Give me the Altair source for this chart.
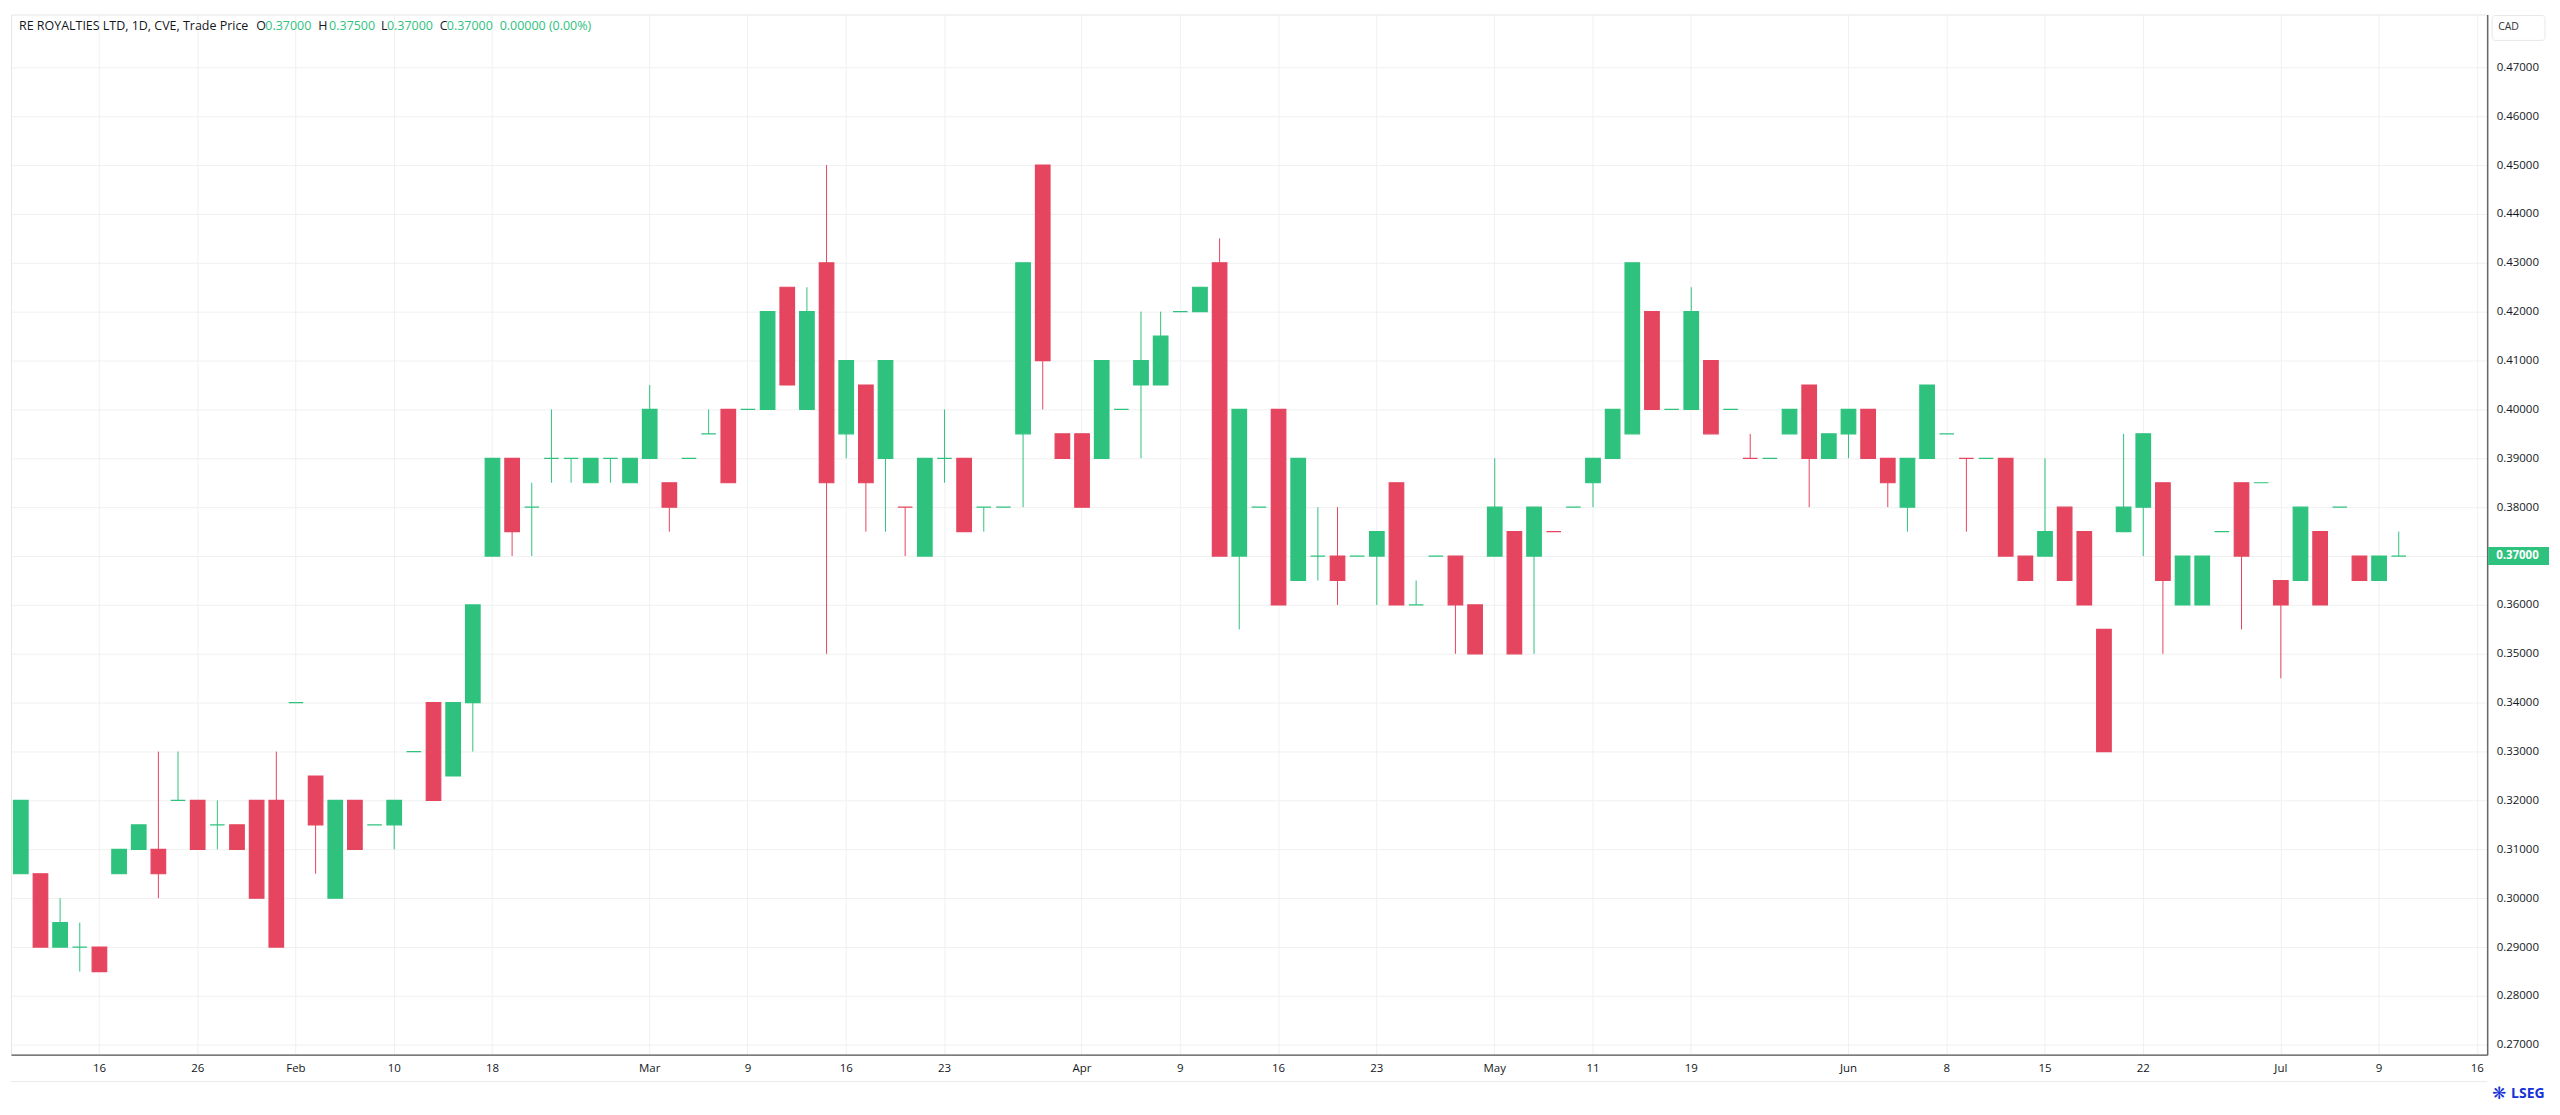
import altair as alt
import pandas as pd

# ---------------- data ----------------
OPEN = [0.305, 0.305, 0.29, 0.29, 0.29, 0.305, 0.31, 0.31, 0.32, 0.32,
        0.315, 0.315, 0.32, 0.32, 0.34, 0.325, 0.30, 0.32, 0.315, 0.315,
        0.33, 0.34, 0.325, 0.34, 0.37, 0.39, 0.38, 0.39, 0.39, 0.385,
        0.39, 0.385, 0.39, 0.385, 0.39, 0.395, 0.40, 0.40, 0.40, 0.425,
        0.40, 0.43, 0.395, 0.405, 0.39, 0.38, 0.37, 0.39, 0.39, 0.38,
        0.38, 0.395, 0.45, 0.395, 0.395, 0.39, 0.40, 0.405, 0.405, 0.42,
        0.42, 0.43, 0.37, 0.38, 0.40, 0.365, 0.37, 0.37, 0.37, 0.37,
        0.385, 0.36, 0.37, 0.37, 0.36, 0.37, 0.375, 0.37, 0.375, 0.38,
        0.385, 0.39, 0.395, 0.42, 0.40, 0.40, 0.41, 0.40, 0.39, 0.39,
        0.395, 0.405, 0.39, 0.395, 0.40, 0.39, 0.38, 0.39, 0.395, 0.39,
        0.39, 0.39, 0.37, 0.37, 0.38, 0.375, 0.355, 0.375, 0.38, 0.385,
        0.36, 0.36, 0.375, 0.385, 0.385, 0.365, 0.365, 0.375, 0.38, 0.37,
        0.365, 0.37]
HIGH = [0.32, 0.305, 0.30, 0.295, 0.29, 0.31, 0.315, 0.33, 0.33, 0.32,
        0.32, 0.315, 0.32, 0.33, 0.34, 0.325, 0.32, 0.32, 0.315, 0.32,
        0.33, 0.34, 0.34, 0.36, 0.39, 0.39, 0.385, 0.40, 0.39, 0.39,
        0.39, 0.39, 0.405, 0.385, 0.39, 0.40, 0.40, 0.40, 0.42, 0.425,
        0.425, 0.45, 0.41, 0.405, 0.41, 0.38, 0.39, 0.40, 0.39, 0.38,
        0.38, 0.43, 0.45, 0.395, 0.395, 0.41, 0.40, 0.42, 0.42, 0.42,
        0.425, 0.435, 0.40, 0.38, 0.40, 0.39, 0.38, 0.38, 0.37, 0.375,
        0.385, 0.365, 0.37, 0.37, 0.36, 0.39, 0.375, 0.38, 0.375, 0.38,
        0.39, 0.40, 0.43, 0.42, 0.40, 0.425, 0.41, 0.40, 0.395, 0.39,
        0.40, 0.405, 0.395, 0.40, 0.40, 0.39, 0.39, 0.405, 0.395, 0.39,
        0.39, 0.39, 0.37, 0.39, 0.38, 0.375, 0.355, 0.395, 0.395, 0.385,
        0.37, 0.37, 0.375, 0.385, 0.385, 0.365, 0.38, 0.375, 0.38, 0.37,
        0.37, 0.375]
LOW = [0.305, 0.29, 0.29, 0.285, 0.285, 0.305, 0.31, 0.30, 0.32, 0.31,
       0.31, 0.31, 0.30, 0.29, 0.34, 0.305, 0.30, 0.31, 0.315, 0.31,
       0.33, 0.32, 0.325, 0.33, 0.37, 0.37, 0.37, 0.385, 0.385, 0.385,
       0.385, 0.385, 0.39, 0.375, 0.39, 0.395, 0.385, 0.40, 0.40, 0.405,
       0.40, 0.35, 0.39, 0.375, 0.375, 0.37, 0.37, 0.385, 0.375, 0.375,
       0.38, 0.38, 0.40, 0.39, 0.38, 0.39, 0.40, 0.39, 0.405, 0.42,
       0.42, 0.37, 0.355, 0.38, 0.36, 0.365, 0.365, 0.36, 0.37, 0.36,
       0.36, 0.36, 0.37, 0.35, 0.35, 0.37, 0.35, 0.35, 0.375, 0.38,
       0.38, 0.39, 0.395, 0.40, 0.40, 0.40, 0.395, 0.40, 0.39, 0.39,
       0.395, 0.38, 0.39, 0.39, 0.39, 0.38, 0.375, 0.39, 0.395, 0.375,
       0.39, 0.37, 0.365, 0.37, 0.365, 0.36, 0.33, 0.375, 0.37, 0.35,
       0.36, 0.36, 0.375, 0.355, 0.385, 0.345, 0.365, 0.36, 0.38, 0.365,
       0.365, 0.37]
CLOSE = [0.32, 0.29, 0.295, 0.29, 0.285, 0.31, 0.315, 0.305, 0.32, 0.31,
         0.315, 0.31, 0.30, 0.29, 0.34, 0.315, 0.32, 0.31, 0.315, 0.32,
         0.33, 0.32, 0.34, 0.36, 0.39, 0.375, 0.38, 0.39, 0.39, 0.39,
         0.39, 0.39, 0.40, 0.38, 0.39, 0.395, 0.385, 0.40, 0.42, 0.405,
         0.42, 0.385, 0.41, 0.385, 0.41, 0.38, 0.39, 0.39, 0.375, 0.38,
         0.38, 0.43, 0.41, 0.39, 0.38, 0.41, 0.40, 0.41, 0.415, 0.42,
         0.425, 0.37, 0.40, 0.38, 0.36, 0.39, 0.37, 0.365, 0.37, 0.375,
         0.36, 0.36, 0.37, 0.36, 0.35, 0.38, 0.35, 0.38, 0.375, 0.38,
         0.39, 0.40, 0.43, 0.40, 0.40, 0.42, 0.395, 0.40, 0.39, 0.39,
         0.40, 0.39, 0.395, 0.40, 0.39, 0.385, 0.39, 0.405, 0.395, 0.39,
         0.39, 0.37, 0.365, 0.375, 0.365, 0.36, 0.33, 0.38, 0.395, 0.365,
         0.37, 0.37, 0.375, 0.37, 0.385, 0.36, 0.38, 0.36, 0.38, 0.365,
         0.37, 0.37]

# calendar: TSX-V trading days, market holidays and days without trades
HOLIDAYS = ["2026-02-16", "2026-04-03", "2026-05-18", "2026-07-01"]
NO_TRADE_DAYS = ["2026-01-19", "2026-02-09", "2026-05-04", "2026-05-25"]
DOJI_DOWN = ["2026-03-19", "2026-05-07", "2026-05-22", "2026-06-09"]

TICK_DATES = ["2026-01-16", "2026-01-26", "2026-02-02", "2026-02-10", "2026-02-18",
              "2026-03-02", "2026-03-09", "2026-03-16", "2026-03-23", "2026-04-01",
              "2026-04-09", "2026-04-16", "2026-04-23", "2026-05-01", "2026-05-11",
              "2026-05-19", "2026-06-01", "2026-06-08", "2026-06-15", "2026-06-22",
              "2026-07-02", "2026-07-09", "2026-07-16"]
TICK_LABELS = ["16", "26", "Feb", "10", "18", "Mar", "9", "16", "23", "Apr", "9", "16",
               "23", "May", "11", "19", "Jun", "8", "15", "22", "Jul", "9", "16"]
PRICE_TICKS = [round(0.27 + 0.01 * i, 2) for i in range(21)]
LAST_PRICE = 0.37

# ---------------- build table ----------------
days = pd.bdate_range("2026-01-12", "2026-07-16", freq="C",
                      holidays=HOLIDAYS + NO_TRADE_DAYS)
DATES = [d.strftime("%Y-%m-%d") for d in days]
n = len(OPEN)
df = pd.DataFrame({"date": DATES[:n], "open": OPEN, "high": HIGH,
                   "low": LOW, "close": CLOSE})


def direction(row):
    if row["close"] > row["open"]:
        return "up"
    if row["close"] < row["open"]:
        return "down"
    return "down" if row["date"] in DOJI_DOWN else "up"


df["dir"] = df.apply(direction, axis=1)

GREEN = "#2EC27E"
RED = "#E5455F"
TXT = "#131722"
W, H = 2483, 1043
YMIN, YMAX = 0.268, 0.4808

label_expr = "".join(f"datum.value === '{d}' ? '{l}' : "
                     for d, l in zip(TICK_DATES, TICK_LABELS)) + "''"

xscale = alt.Scale(domain=DATES, paddingInner=0.26, paddingOuter=0.13)
yscale = alt.Scale(domain=[YMIN, YMAX], nice=False, zero=False)
cscale = alt.Scale(domain=["up", "down"], range=[GREEN, RED])

xaxis = alt.Axis(values=TICK_DATES, labelExpr=label_expr, labelAngle=0, tickSize=0,
                 labelPadding=8, labelFontSize=11.5, labelFont="Open Sans",
                 labelColor=TXT, domainColor="#555555", domainWidth=1.5,
                 grid=True, gridColor="#f0f0f0", gridWidth=1, title=None,
                 bandPosition=0.5)
yaxis = alt.Axis(orient="right", values=PRICE_TICKS, format=".5f", tickSize=0,
                 labelPadding=9, labelFontSize=11.5, labelFont="Open Sans",
                 labelColor=TXT, domainColor="#666666", domainWidth=1.5,
                 grid=True, gridColor="#f0f0f0", gridWidth=1, title=None)

base = alt.Chart(df)

wicks = base.mark_rule(strokeWidth=1).encode(
    x=alt.X("date:O", scale=xscale, axis=xaxis, bandPosition=0.5),
    y=alt.Y("low:Q", scale=yscale, axis=yaxis),
    y2="high:Q",
    color=alt.Color("dir:N", scale=cscale, legend=None),
)

bodies = base.mark_bar(strokeWidth=1.2).encode(
    x=alt.X("date:O", scale=xscale),
    y=alt.Y("open:Q", scale=yscale),
    y2="close:Q",
    color=alt.Color("dir:N", scale=cscale, legend=None),
    stroke=alt.Stroke("dir:N", scale=cscale, legend=None),
)

# header legend line
header_parts = [
    ("RE ROYALTIES LTD, 1D, CVE, Trade Price", 8, TXT),
    ("O", 246, TXT), ("0.37000", 255, GREEN),
    ("H", 308, TXT), ("0.37500", 319, GREEN),
    ("L", 371, TXT), ("0.37000", 377, GREEN),
    ("C", 430, TXT), ("0.37000", 437, GREEN),
    ("0.00000 (0.00%)", 490, GREEN),
]
header_layers = []
for txt, px, col in header_parts:
    header_layers.append(
        alt.Chart(pd.DataFrame({"t": [txt]})).mark_text(
            align="left", baseline="middle", fontSize=12.5, font="Open Sans",
            color=col
        ).encode(x=alt.value(px), y=alt.value(12), text="t:N")
    )

# last price tag on price scale
tag_df = pd.DataFrame({"p": [LAST_PRICE], "lo": [LAST_PRICE - 0.00184],
                       "hi": [LAST_PRICE + 0.00184], "t": ["0.37000"]})
tag_box = alt.Chart(tag_df).mark_rect(color=GREEN, clip=False).encode(
    x=alt.value(W + 1), x2=alt.value(W + 62),
    y=alt.Y("lo:Q", scale=yscale), y2="hi:Q",
)
tag_txt = alt.Chart(tag_df).mark_text(
    align="left", baseline="middle", fontSize=11.5, font="Open Sans",
    color="white", fontWeight="bold"
).encode(x=alt.value(W + 9), y=alt.Y("p:Q", scale=yscale), text="t:N")

# currency box
cad_df = pd.DataFrame({"t": ["CAD"]})
cad_box = alt.Chart(cad_df).mark_rect(
    fill="white", stroke="#e8e8e8", strokeWidth=1, cornerRadius=3
).encode(x=alt.value(W + 5), x2=alt.value(W + 58), y=alt.value(1), y2=alt.value(26))
cad_txt = alt.Chart(cad_df).mark_text(
    align="left", baseline="middle", fontSize=10.5, font="Open Sans", color="#333333"
).encode(x=alt.value(W + 11), y=alt.value(13), text="t:N")

# bottom frame of time scale and logo
frame = alt.Chart(pd.DataFrame({"a": [0]})).mark_rule(
    color="#ececec", strokeWidth=1
).encode(x=alt.value(0), x2=alt.value(W), y=alt.value(1070))
logo = alt.Chart(pd.DataFrame({"t": ["LSEG"]})).mark_text(
    align="left", baseline="middle", fontSize=14, font="Open Sans",
    fontWeight="bold", color="#1432D6"
).encode(x=alt.value(W + 24), y=alt.value(1082), text="t:N")
logo_icon = alt.Chart(pd.DataFrame({"t": ["\u274B"]})).mark_text(
    align="center", baseline="middle", fontSize=17, font="DejaVu Sans",
    color="#1432D6"
).encode(x=alt.value(W + 12), y=alt.value(1082), text="t:N")

chart = alt.layer(
    wicks, bodies, frame, *header_layers, tag_box, tag_txt, cad_box, cad_txt,
    logo_icon, logo
).properties(
    width=W, height=H,
    padding={"left": 2, "top": 5, "right": 3, "bottom": 0},
    background="white",
).configure_view(stroke="#e6e6e6")

chart.save("out.html", embed_options={"renderer": "svg", "actions": False})
